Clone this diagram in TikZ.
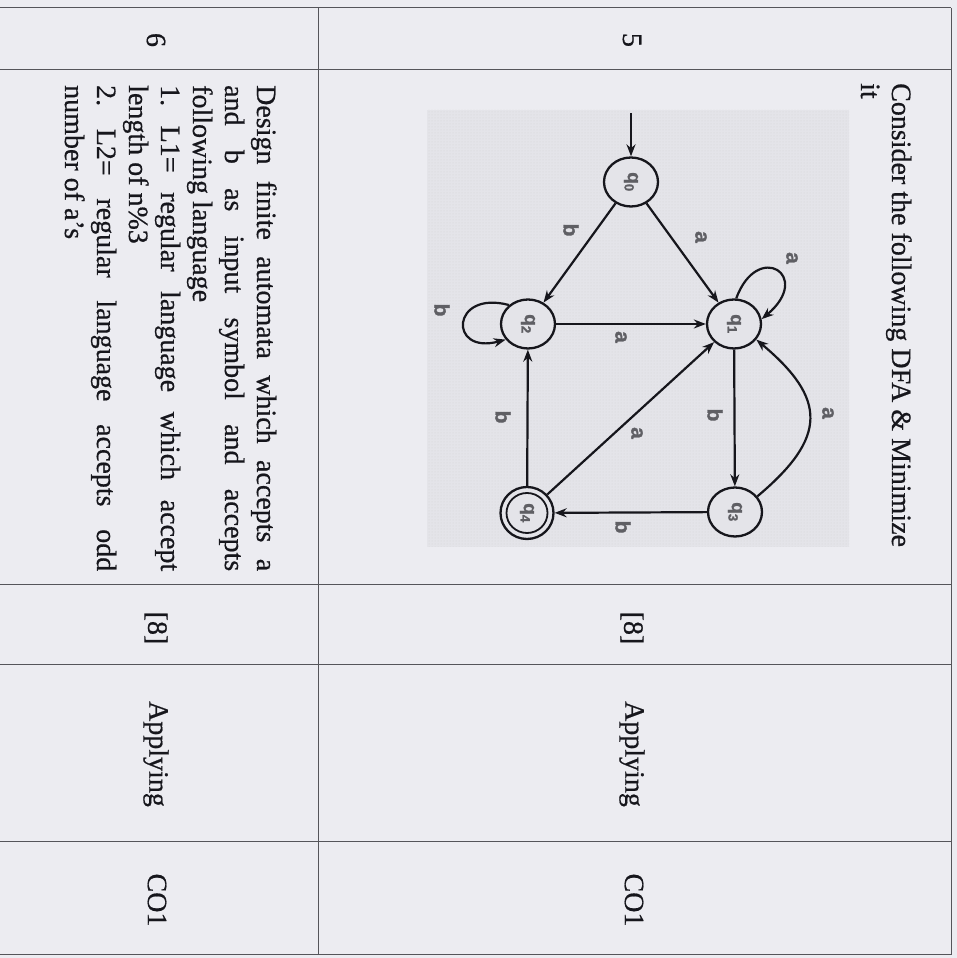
\documentclass[tikz,border=0pt]{standalone}
\usepackage{fontspec}
\setmainfont{Liberation Serif}[FakeBold=0.6]
\newfontfamily\lblfont{Liberation Sans}[FakeBold=1.5]
\usetikzlibrary{shapes.geometric,arrows.meta,patterns}
\definecolor{paper}{RGB}{236,236,241}
\definecolor{ink}{RGB}{22,22,28}
\definecolor{rulec}{RGB}{85,85,90}
\definecolor{dfabg}{RGB}{228,228,233}
\definecolor{lblgray}{RGB}{95,95,100}
\begin{document}
\frenchspacing
\begin{tikzpicture}[x=1pt,y=1pt,
  txt/.style={rotate=-90, inner sep=0pt, font=\fontsize{28}{32}\selectfont, text=ink},
  qline/.style={txt, anchor=base west},
  cell/.style={txt, anchor=center},
  rulel/.style={draw=rulec, line width=1pt},
  state/.style={ellipse, draw=ink, line width=2.3pt, minimum width=54pt, minimum height=49pt,
    inner sep=0pt, fill=dfabg, font=\lblfont\bfseries\fontsize{19}{19}\selectfont, text=lblgray},
  elbl/.style={rotate=-90, inner sep=0pt, font=\lblfont\bfseries\fontsize{21}{21}\selectfont, text=lblgray},
  arr/.style={draw=ink, line width=2.2pt, -{Stealth[length=12pt,width=9pt]}}
]
\fill[paper] (0,0) rectangle (957,958);
\useasboundingbox (0,0) rectangle (957,958);

% picture background of the DFA
\fill[dfabg] (427,411) rectangle (849,848);
\fill[pattern=dots, pattern color=black!16] (427,411) rectangle (849,848);

% table rules
\draw[rulel] (0,950) -- (951,950);
\draw[rulel] (0,888) -- (951,888);
\draw[rulel] (0,373) -- (951,373);
\draw[rulel] (0,293) -- (951,293);
\draw[rulel] (0,116) -- (951,116);
\draw[rulel] (0,3) -- (951,3);
\draw[rulel] (318,3) -- (318,950);
\draw[rulel] (951,3) -- (951,950);

% question numbers
\node[cell] (n5) at (632,918) {5};
\node[cell] (n6) at (156,918) {6};

% question 5 text
\node[qline] (c1) at (892,875) {Consider the following DFA \& Minimize};
\node[qline] (c2) at (861,875) {it};

% question 6 text
\node[qline] (d1) at (257,873) {\makebox[486pt][s]{Design finite automata which accepts a}};
\node[qline] (d2) at (225,873) {\makebox[486pt][s]{and b as input symbol and accepts}};
\node[qline] (d3) at (193,873) {following language};
\node[qline] (d4) at (161,873) {\makebox[486pt][s]{1. L1= regular language which accept}};
\node[qline] (d5) at (129,873) {length of n\%3};
\node[qline] (d6) at (97,873) {\makebox[486pt][s]{2. L2= regular language accepts odd}};
\node[qline] (d7) at (65,873) {number of a’s};

% marks, level, CO
\node[cell] (m5) at (632,330) {[8]};
\node[cell] (m6) at (156,330) {[8]};
\node[cell] (b5) at (632,204) {Applying};
\node[cell] (b6) at (156,204) {Applying};
\node[cell] (o5) at (634,58) {CO1};
\node[cell] (o6) at (157,58) {CO1};

% DFA states
\node[state] (q0) at (631,776) {\rotatebox{-90}{q\textsubscript{0}}};
\node[state] (q1) at (734,634) {\rotatebox{-90}{q\textsubscript{1}}};
\node[state] (q2) at (528,634) {\rotatebox{-90}{q\textsubscript{2}}};
\node[state] (q3) at (735,446) {\rotatebox{-90}{q\textsubscript{3}}};
\node[state, minimum width=53pt, minimum height=52pt] (q4) at (527,445) {\rotatebox{-90}{q\textsubscript{4}}};
\draw[ink, line width=1.8pt] (q4.center) ellipse [x radius=20.5, y radius=20];
\coordinate (init) at (631,845);

% transitions
\draw[arr] (init) -- (q0);
\draw[arr] (q0) -- (q1);
\draw[arr] (q0) -- (q2);
\draw[arr] (q2) -- (q1);
\draw[arr] (q1) -- (q3);
\draw[arr] (q3) -- (q4);
\draw[arr] (q4) -- (q1);
\draw[arr] (q4) -- (q2);
\draw[arr] (q1.85) .. controls +(70:62) and +(40:68) .. (q1.10);
\draw[arr] (q2.135) .. controls +(165:60) and +(195:60) .. (q2.215);
\draw[arr] (q3.35) to[out=40,in=-40,looseness=1.5] (q1.-35);

% transition labels
\node[elbl] (l01) at (701,721) {a};
\node[elbl] (l02) at (571,728) {b};
\node[elbl] (l11) at (792,700) {a};
\node[elbl] (l21) at (621,621) {a};
\node[elbl] (l22) at (442,648) {b};
\node[elbl] (l13) at (715,543) {b};
\node[elbl] (l31) at (828,545) {a};
\node[elbl] (l34) at (623,431) {b};
\node[elbl] (l41) at (637,525) {a};
\node[elbl] (l42) at (503,541) {b};
\end{tikzpicture}
\end{document}
